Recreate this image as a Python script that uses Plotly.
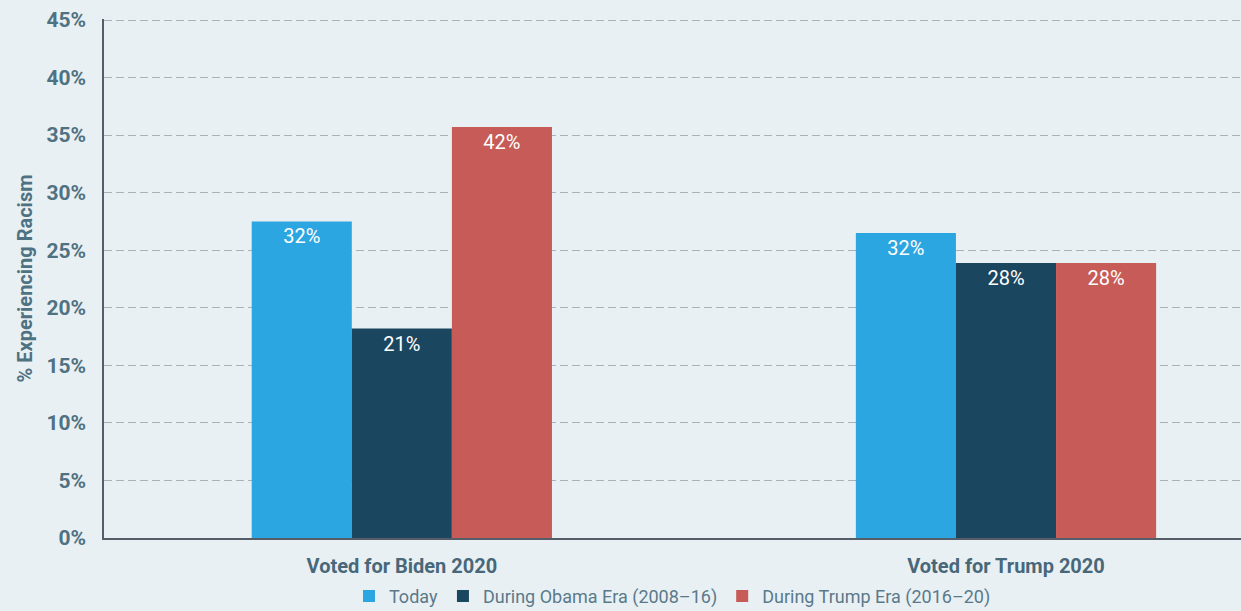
import plotly.graph_objects as go

groups = ["Voted for Biden 2020", "Voted for Trump 2020"]
series = ["Today", "During Obama Era (2008–16)", "During Trump Era (2016–20)"]
# bar heights as drawn (percent on y axis)
heights = {
    "Today": [27.5, 26.5],
    "During Obama Era (2008–16)": [18.2, 23.9],
    "During Trump Era (2016–20)": [35.7, 23.9],
}
# labels printed on the bars
labels = {
    "Today": ["32%", "32%"],
    "During Obama Era (2008–16)": ["21%", "28%"],
    "During Trump Era (2016–20)": ["42%", "28%"],
}
colors = ["#2ca6e0", "#1a4660", "#c75b58"]
yticks = [0, 5, 10, 15, 20, 25, 30, 35, 40, 45]

FONT = "Roboto, Arial, sans-serif"
BG = "#e9f0f4"

fig = go.Figure()
for name, col in zip(series, colors):
    fig.add_trace(go.Bar(
        x=groups,
        y=heights[name],
        name=name,
        marker=dict(color=col, line=dict(width=0)),
        text=labels[name],
        textposition="inside",
        insidetextanchor="end",
        textfont=dict(color="white", size=20, family=FONT),
        textangle=0,
    ))

fig.update_layout(
    width=1241,
    height=611,
    barmode="group",
    bargap=0.503,
    bargroupgap=0,
    paper_bgcolor=BG,
    plot_bgcolor=BG,
    margin=dict(l=104, r=0, t=19, b=73, autoexpand=False),
    font=dict(family=FONT, color="#507585"),
    uniformtext=dict(minsize=20, mode="show"),
    legend=dict(
        orientation="h",
        x=0.5, xanchor="center",
        yref="container", y=0.024, yanchor="middle",
        font=dict(size=18, color="#5a7a8a", family=FONT),
        itemwidth=30,
        traceorder="normal",
    ),
    xaxis=dict(
        range=[-0.493, 1.389],
        showline=True, linecolor="#555e68", linewidth=1.5,
        ticks="outside", ticklen=9, tickcolor="rgba(0,0,0,0)",
        tickfont=dict(size=20, color="#48687a", family=FONT, weight="bold"),
        showgrid=False, zeroline=False,
    ),
    yaxis=dict(
        range=[0, 45.09],
        tickvals=yticks,
        ticktext=[f"{v}%" for v in yticks],
        showline=True, linecolor="#555e68", linewidth=1.5,
        ticks="outside", ticklen=12, tickcolor="rgba(0,0,0,0)",
        tickfont=dict(size=21, color="#4f7282", family=FONT, weight="bold"),
        showgrid=True, gridcolor="#a9b1ba", griddash="8px,4px", gridwidth=1,
        zeroline=False,
        title=dict(text="% Experiencing Racism", standoff=8,
                   font=dict(size=20, color="#4f7282", family=FONT, weight="bold")),
    ),
)

fig.write_html("out.html", config={"displayModeBar": False},
               post_script="document.body.style.margin='0';")
